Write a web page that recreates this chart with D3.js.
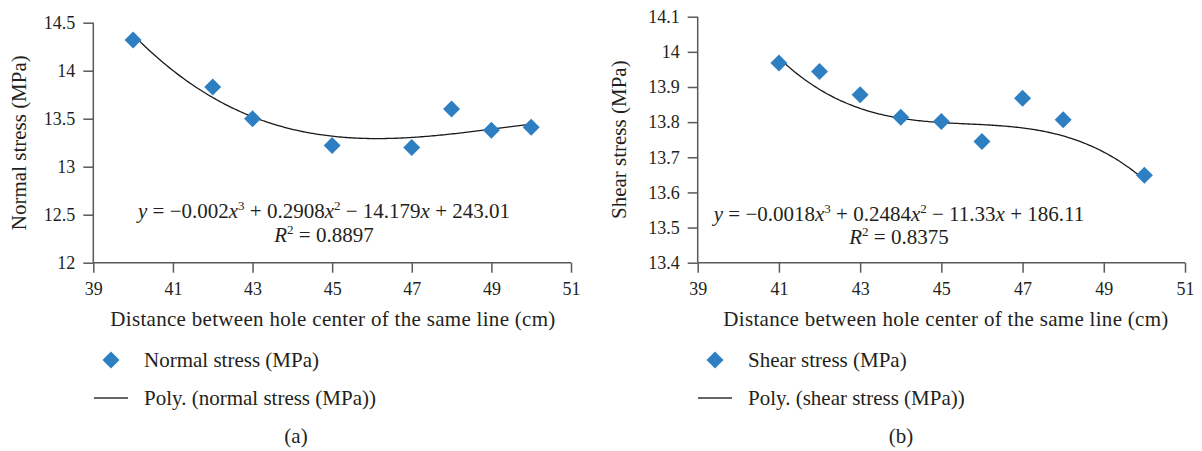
<!DOCTYPE html>
<html>
<head>
<meta charset="utf-8">
<script src="https://cdn.jsdelivr.net/npm/d3@7"></script>
<style>
  html, body { margin: 0; padding: 0; background: #fff; }
  svg { display: block; font-family: "Liberation Serif", "Times New Roman", serif; }
  text { fill: #231f20; }
</style>
</head>
<body>
<svg id="chart" width="1202" height="451"></svg>
<script>
// Distance between hole centres of the same line (cm)
const normalX = [40, 42, 43, 45, 47, 48, 49, 50];
const normalStress = [14.32, 13.83, 13.50, 13.22, 13.20, 13.60, 13.38, 13.41];

const shearX = [41, 42, 43, 44, 45, 46, 47, 48, 50];
const shearStress = [13.968, 13.944, 13.878, 13.814, 13.802, 13.745, 13.868, 13.807, 13.649];

// Polynomial trend values at whole-centimetre spacings
const normalTrendX = [40, 41, 42, 43, 44, 45, 46, 47, 48, 49, 50];
const normalTrend = [14.358, 14.03, 13.73, 13.50, 13.383, 13.314, 13.297, 13.31, 13.345, 13.39, 13.44];
const shearTrendX = [41, 42, 43, 44, 45, 46, 47, 48, 49, 50];
const shearTrend = [13.974, 13.906, 13.845, 13.805, 13.791, 13.790, 13.785, 13.764, 13.722, 13.630];

const xTicks = [39, 41, 43, 45, 47, 49, 51];
const normalTicks = [12, 12.5, 13, 13.5, 14, 14.5];
const shearTicks = [13.4, 13.5, 13.6, 13.7, 13.8, 13.9, 14, 14.1];

const normalEquation = { a: "0.002", b: "0.2908", c: "14.179", d: "243.01", r2: "0.8897" };
const shearEquation = { a: "0.0018", b: "0.2484", c: "11.33", d: "186.11", r2: "0.8375" };

const BLUE = "#2e7fc2";
const AXIS = "#595959";
const TICK_FONT = 18;
const FONT = 21;
const SUP = 13;

const svg = d3.select("#chart");

// Least-squares cubic through a set of points, returned as a function of x
function cubicFit(xs, ys) {
  const mx = d3.mean(xs);
  const u = xs.map(x => x - mx);
  const n = 4;
  const A = Array.from({ length: n }, () => new Array(n + 1).fill(0));
  u.forEach((ui, k) => {
    for (let i = 0; i < n; i++) {
      for (let j = 0; j < n; j++) A[i][j] += Math.pow(ui, i + j);
      A[i][n] += ys[k] * Math.pow(ui, i);
    }
  });
  for (let i = 0; i < n; i++) {
    let p = i;
    for (let r = i + 1; r < n; r++) if (Math.abs(A[r][i]) > Math.abs(A[p][i])) p = r;
    [A[i], A[p]] = [A[p], A[i]];
    for (let r = 0; r < n; r++) {
      if (r === i) continue;
      const f = A[r][i] / A[i][i];
      for (let c = i; c <= n; c++) A[r][c] -= f * A[i][c];
    }
  }
  const coef = A.map((row, i) => row[n] / row[i]);
  return x => {
    const t = x - mx;
    return coef[0] + coef[1] * t + coef[2] * t * t + coef[3] * t * t * t;
  };
}

function drawPanel(opt) {
  const g = svg.append("g");
  const x = d3.scaleLinear().domain([39, 51]).range([opt.left, opt.right]);
  const y = d3.scaleLinear().domain(opt.yDomain).range([opt.bottom, opt.top]);

  // axes
  const xAxis = g.append("g").attr("transform", `translate(0,${opt.bottom})`)
    .call(d3.axisBottom(x).tickValues(xTicks).tickSize(10).tickPadding(10).tickFormat(d3.format("d")));
  const yAxis = g.append("g").attr("transform", `translate(${opt.left},0)`)
    .call(d3.axisLeft(y).tickValues(opt.yTicks).tickSize(10).tickPadding(8).tickFormat(d => String(+d.toFixed(2))));
  [xAxis, yAxis].forEach(a => {
    a.select(".domain").attr("stroke", AXIS).attr("stroke-width", 1.5);
    a.selectAll(".tick line").attr("stroke", AXIS).attr("stroke-width", 1.5);
    a.selectAll(".tick text").attr("fill", "#231f20").attr("font-size", TICK_FONT)
      .attr("font-family", "Liberation Serif, serif");
  });
  xAxis.selectAll(".domain").attr("d", `M${opt.left},0H${opt.right}`);
  yAxis.selectAll(".domain").attr("d", `M0,${opt.bottom}V${opt.top}`);

  // polynomial trend line
  const f = cubicFit(opt.tx, opt.ty);
  const x0 = d3.min(opt.tx), x1 = d3.max(opt.tx);
  const pts = d3.range(0, 201).map(i => x0 + (x1 - x0) * i / 200);
  g.append("path")
    .datum(pts)
    .attr("fill", "none").attr("stroke", "#1a1a1a").attr("stroke-width", 1.3)
    .attr("d", d3.line().x(d => x(d)).y(d => y(f(d))));

  // measured points as diamonds
  const diamond = d3.symbol(d3.symbolSquare, 144)();
  g.selectAll("path.pt").data(opt.xs.map((d, i) => [d, opt.ys[i]])).join("path")
    .attr("class", "pt")
    .attr("d", diamond)
    .attr("fill", BLUE)
    .attr("transform", d => `translate(${x(d[0])},${y(d[1])}) rotate(45)`);

  // trend equation and R²
  const eq = g.append("text").attr("x", opt.eqX).attr("y", opt.eqY)
    .attr("text-anchor", "middle").attr("font-size", FONT);
  const e = opt.eq;
  eq.append("tspan").attr("font-style", "italic").text("y");
  eq.append("tspan").text(` = −${e.a}`);
  eq.append("tspan").attr("font-style", "italic").text("x");
  eq.append("tspan").attr("font-size", SUP).attr("dy", -8).text("3");
  eq.append("tspan").attr("dy", 8).text(` + ${e.b}`);
  eq.append("tspan").attr("font-style", "italic").text("x");
  eq.append("tspan").attr("font-size", SUP).attr("dy", -8).text("2");
  eq.append("tspan").attr("dy", 8).text(` − ${e.c}`);
  eq.append("tspan").attr("font-style", "italic").text("x");
  eq.append("tspan").text(` + ${e.d}`);

  const r2 = g.append("text").attr("x", opt.eqX).attr("y", opt.r2Y)
    .attr("text-anchor", "middle").attr("font-size", FONT);
  r2.append("tspan").attr("font-style", "italic").text("R");
  r2.append("tspan").attr("font-size", SUP).attr("dy", -8).text("2");
  r2.append("tspan").attr("dy", 8).text(` = ${e.r2}`);

  // axis titles
  g.append("text")
    .attr("transform", `translate(${opt.yTitleX},${(opt.top + opt.bottom) / 2}) rotate(-90)`)
    .attr("text-anchor", "middle").attr("dominant-baseline", "central")
    .attr("font-size", FONT).text(opt.yTitle);
  g.append("text").attr("x", opt.xTitleX).attr("y", 319)
    .attr("text-anchor", "middle").attr("dominant-baseline", "central")
    .attr("font-size", FONT).attr("letter-spacing", 0.3)
    .text("Distance between hole center of the same line (cm)");

  // legend
  g.append("path").attr("d", diamond).attr("fill", BLUE)
    .attr("transform", `translate(${opt.legX + 17},360) rotate(45)`);
  g.append("text").attr("x", opt.legX + 50).attr("y", 360)
    .attr("dominant-baseline", "central").attr("font-size", FONT).text(opt.legPoint);
  g.append("line").attr("x1", opt.legX).attr("x2", opt.legX + 34)
    .attr("y1", 398).attr("y2", 398).attr("stroke", "#333").attr("stroke-width", 1.3);
  g.append("text").attr("x", opt.legX + 50).attr("y", 398)
    .attr("dominant-baseline", "central").attr("font-size", FONT).text(opt.legLine);

  g.append("text").attr("x", opt.capX).attr("y", 436)
    .attr("text-anchor", "middle").attr("dominant-baseline", "central")
    .attr("font-size", FONT).text(opt.caption);
}

drawPanel({
  left: 93.3, right: 571, top: 22.7, bottom: 262.7,
  yDomain: [12, 14.5], yTicks: normalTicks,
  xs: normalX, ys: normalStress, tx: normalTrendX, ty: normalTrend, eq: normalEquation,
  eqX: 324, eqY: 218, r2Y: 242,
  yTitle: "Normal stress (MPa)", yTitleX: 19, xTitleX: 333,
  legX: 94, legPoint: "Normal stress (MPa)", legLine: "Poly. (normal stress (MPa))",
  capX: 296, caption: "(a)"
});

drawPanel({
  left: 697.7, right: 1185, top: 16.7, bottom: 262.7,
  yDomain: [13.4, 14.1], yTicks: shearTicks,
  xs: shearX, ys: shearStress, tx: shearTrendX, ty: shearTrend, eq: shearEquation,
  eqX: 899, eqY: 221, r2Y: 244,
  yTitle: "Shear stress (MPa)", yTitleX: 619, xTitleX: 946,
  legX: 698, legPoint: "Shear stress (MPa)", legLine: "Poly. (shear stress (MPa))",
  capX: 901, caption: "(b)"
});
</script>
</body>
</html>
